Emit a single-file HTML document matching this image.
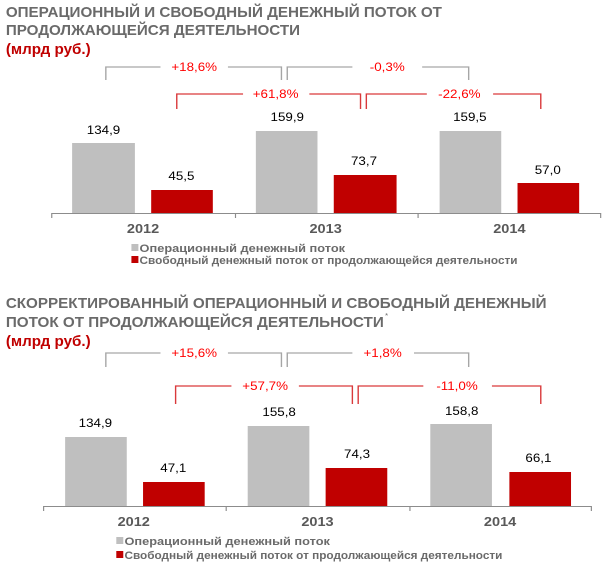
<!DOCTYPE html>
<html><head><meta charset="utf-8"><style>
body{margin:0;background:#fff;width:603px;height:565px;overflow:hidden}
svg{display:block}
text{font-family:"Liberation Sans",Arial,sans-serif}
.t{font-size:15px;font-weight:bold;fill:#6a6a6a}
.u{font-size:15px;font-weight:bold;fill:#c00000}
.p{font-size:11.5px;fill:#ff0000;text-anchor:middle}
.v{font-size:11.5px;fill:#000;text-anchor:middle}
.y{font-size:12.5px;font-weight:bold;fill:#595959;text-anchor:middle}
.l{font-size:11px;font-weight:bold;fill:#6a6a6a}
.g{fill:none;stroke:#a6a6a6;stroke-width:1.2}
.r{fill:none;stroke:#d9393b;stroke-width:1.2}
</style></head><body>
<svg width="603" height="565" viewBox="0 0 518.5 565" preserveAspectRatio="none">
<!-- Chart 1 -->
<text class="t" x="5" y="17" textLength="375" lengthAdjust="spacingAndGlyphs">ОПЕРАЦИОННЫЙ И СВОБОДНЫЙ ДЕНЕЖНЫЙ ПОТОК ОТ</text>
<text class="t" x="5" y="35" textLength="253" lengthAdjust="spacingAndGlyphs">ПРОДОЛЖАЮЩЕЙСЯ ДЕЯТЕЛЬНОСТИ</text>
<text class="u" x="5" y="54" textLength="73" lengthAdjust="spacingAndGlyphs">(млрд руб.)</text>
<path class="g" d="M91 80V67H138M196 67H242V80M247 80V67H303M363 67H403V80"/>
<text class="p" x="167" y="71">+18,6%</text><text class="p" x="333" y="71">-0,3%</text>
<path class="r" d="M152 109V94H209M266 94H310V109M315 109V94H367M424 94H465V109"/>
<text class="p" x="237" y="98">+61,8%</text><text class="p" x="395" y="98">-22,6%</text>
<rect x="62" y="143" width="54" height="70" fill="#bfbfbf"/>
<rect x="130" y="190" width="53" height="23" fill="#c00000"/>
<rect x="220" y="131" width="53" height="82" fill="#bfbfbf"/>
<rect x="287" y="175" width="54" height="38" fill="#c00000"/>
<rect x="378" y="131" width="53" height="82" fill="#bfbfbf"/>
<rect x="445" y="183" width="53" height="30" fill="#c00000"/>
<text class="v" x="89" y="134">134,9</text><text class="v" x="156" y="180">45,5</text>
<text class="v" x="247" y="121">159,9</text><text class="v" x="313" y="165">73,7</text>
<text class="v" x="404" y="121">159,5</text><text class="v" x="471" y="174">57,0</text>
<path d="M44 213.5H517M44.5 213V218M202.5 213V218M359.5 213V218M516.5 213V218" stroke="#8c8c8c" stroke-width="1" fill="none"/>
<text class="y" x="123" y="233">2012</text><text class="y" x="280" y="233">2013</text><text class="y" x="438" y="233">2014</text>
<rect x="113" y="244" width="6" height="7" fill="#bfbfbf"/>
<text class="l" x="120" y="252">Операционный денежный поток</text>
<rect x="113" y="256" width="6" height="7" fill="#c00000"/>
<text class="l" x="120" y="264" textLength="325" lengthAdjust="spacingAndGlyphs">Свободный денежный поток от продолжающейся деятельности</text>
<!-- Chart 2 -->
<text class="t" x="5" y="308" textLength="465" lengthAdjust="spacingAndGlyphs">СКОРРЕКТИРОВАННЫЙ ОПЕРАЦИОННЫЙ И СВОБОДНЫЙ ДЕНЕЖНЫЙ</text>
<text class="t" x="5" y="327" textLength="325" lengthAdjust="spacingAndGlyphs">ПОТОК ОТ ПРОДОЛЖАЮЩЕЙСЯ ДЕЯТЕЛЬНОСТИ</text>
<text x="331" y="318" font-size="7" fill="#6a6a6a">*</text>
<text class="u" x="5" y="346" textLength="73" lengthAdjust="spacingAndGlyphs">(млрд руб.)</text>
<path class="g" d="M91 367V353H138M196 353H242V367M247 367V353H303M356 353H403V367"/>
<text class="p" x="167" y="357">+15,6%</text><text class="p" x="329" y="357">+1,8%</text>
<path class="r" d="M151 404V386H199M257 386H303V404M308 404V386H364M423 386H465V404"/>
<text class="p" x="228" y="390">+57,7%</text><text class="p" x="393" y="390">-11,0%</text>
<rect x="56" y="437" width="53" height="69" fill="#bfbfbf"/>
<rect x="123" y="482" width="53" height="24" fill="#c00000"/>
<rect x="213" y="426" width="53" height="80" fill="#bfbfbf"/>
<rect x="280" y="468" width="53" height="38" fill="#c00000"/>
<rect x="370" y="424" width="53" height="82" fill="#bfbfbf"/>
<rect x="438" y="472" width="53" height="34" fill="#c00000"/>
<text class="v" x="82" y="427">134,9</text><text class="v" x="149" y="472">47,1</text>
<text class="v" x="240" y="416">155,8</text><text class="v" x="307" y="458">74,3</text>
<text class="v" x="397" y="415">158,8</text><text class="v" x="463" y="462">66,1</text>
<path d="M37 506.5H509M37.5 506V511M194.5 506V511M352.5 506V511M508.5 506V511" stroke="#8c8c8c" stroke-width="1" fill="none"/>
<text class="y" x="115" y="526">2012</text><text class="y" x="273" y="526">2013</text><text class="y" x="430" y="526">2014</text>
<rect x="100" y="537" width="6" height="7" fill="#bfbfbf"/>
<text class="l" x="107" y="545">Операционный денежный поток</text>
<rect x="100" y="551" width="6" height="7" fill="#c00000"/>
<text class="l" x="107" y="559" textLength="325" lengthAdjust="spacingAndGlyphs">Свободный денежный поток от продолжающейся деятельности</text>
</svg>
</body></html>
